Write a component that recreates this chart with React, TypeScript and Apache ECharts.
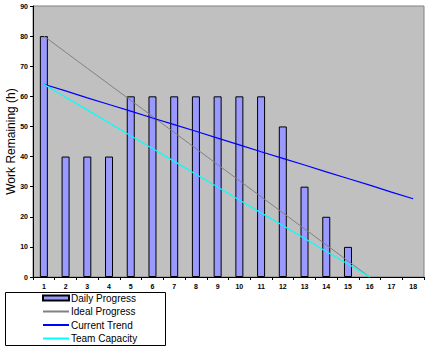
import React, { useEffect, useRef } from "react";
import * as echarts from "echarts";

const days = ["1","2","3","4","5","6","7","8","9","10","11","12","13","14","15","16","17","18"];
const dailyProgress = [80, 40, 40, 40, 60, 60, 60, 60, 60, 60, 60, 50, 30, 20, 10, null, null, null];
const idealProgress = [80, 74.67, 69.33, 64, 58.67, 53.33, 48, 42.67, 37.33, 32, 26.67, 21.33, 16, 10.67, 5.33, 0, null, null];
const currentTrend = [64, 61.8, 59.5, 57.3, 55.1, 52.8, 50.6, 48.4, 46.1, 43.9, 41.6, 39.4, 37.2, 34.9, 32.7, 30.5, 28.2, 26];
const teamCapacity = [64, 59.7, 55.5, 51.2, 46.9, 42.7, 38.4, 34.1, 29.9, 25.6, 21.3, 17.1, 12.8, 8.5, 4.3, 0, null, null];

const FONT = "Arial, 'Liberation Sans', sans-serif";

export default function App() {
  const ref = useRef<HTMLDivElement>(null);
  useEffect(() => {
    if (!ref.current) return;
    const chart = echarts.init(ref.current, null, { renderer: "svg" });
    chart.setOption({
      animation: false,
      backgroundColor: "#ffffff",
      textStyle: { fontFamily: FONT },
      grid: {
        left: 33,
        right: 5,
        top: 6,
        bottom: 74,
        show: true,
        backgroundColor: "#C0C0C0",
        borderColor: "#808080",
        borderWidth: 1,
        containLabel: false,
        outerBoundsMode: "none",
      },
      xAxis: {
        type: "category",
        data: days,
        boundaryGap: true,
        axisLine: { lineStyle: { color: "#000", width: 1 } },
        axisTick: { show: true, length: 3, alignWithLabel: false, lineStyle: { color: "#000" } },
        axisLabel: { fontSize: 7, fontWeight: "bold", color: "#000", margin: 6, fontFamily: FONT },
        splitLine: { show: false },
      },
      yAxis: {
        type: "value",
        min: 0,
        max: 90,
        interval: 10,
        name: "Work Remaining (h)",
        nameLocation: "middle",
        nameGap: 16,
        nameMoveOverlap: false,
        nameTextStyle: { fontSize: 12, color: "#000", fontFamily: FONT },
        axisLine: { show: true, lineStyle: { color: "#000", width: 1 } },
        axisTick: { show: true, length: 3, lineStyle: { color: "#000" } },
        axisLabel: { fontSize: 7, fontWeight: "bold", color: "#000", margin: 5, fontFamily: FONT },
        splitLine: { show: false },
      },
      graphic: [
        {
          type: "rect",
          shape: { x: 5.5, y: 292.5, width: 160, height: 53 },
          style: { fill: "#fff", stroke: "#000", lineWidth: 1 },
          z: 0,
        },
      ],
      legend: {
        orient: "vertical",
        left: 40,
        top: 291,
        itemWidth: 26,
        itemHeight: 5,
        itemGap: 3.5,
        padding: [2, 2, 2, 2],
        textStyle: { fontSize: 10, color: "#000", fontFamily: FONT, padding: [0, 0, 0, -3] },
        z: 10,
        data: [
          { name: "Daily Progress", icon: "rect" },
          { name: "Ideal Progress", itemStyle: { opacity: 0 } },
          { name: "Current Trend", itemStyle: { opacity: 0 } },
          { name: "Team Capacity", itemStyle: { opacity: 0 } },
        ],
      },
      series: [
        {
          name: "Daily Progress",
          type: "bar",
          data: dailyProgress,
          barWidth: 8,
          itemStyle: { color: "#9999FF", borderColor: "#000", borderWidth: 1 },
          z: 2,
        },
        {
          name: "Ideal Progress",
          type: "line",
          data: idealProgress,
          symbol: "none",
          lineStyle: { color: "#808080", width: 1 },
          itemStyle: { color: "#808080" },
          z: 3,
        },
        {
          name: "Current Trend",
          type: "line",
          data: currentTrend,
          symbol: "none",
          lineStyle: { color: "#0000FF", width: 1.2 },
          itemStyle: { color: "#0000FF" },
          z: 4,
        },
        {
          name: "Team Capacity",
          type: "line",
          data: teamCapacity,
          symbol: "none",
          lineStyle: { color: "#00FFFF", width: 1.2 },
          itemStyle: { color: "#00FFFF" },
          z: 5,
        },
      ],
    });
    return () => chart.dispose();
  }, []);
  return (
    <div
      ref={ref}
      style={{ position: "fixed", left: 0, top: 0, width: 429, height: 351 }}
    />
  );
}
